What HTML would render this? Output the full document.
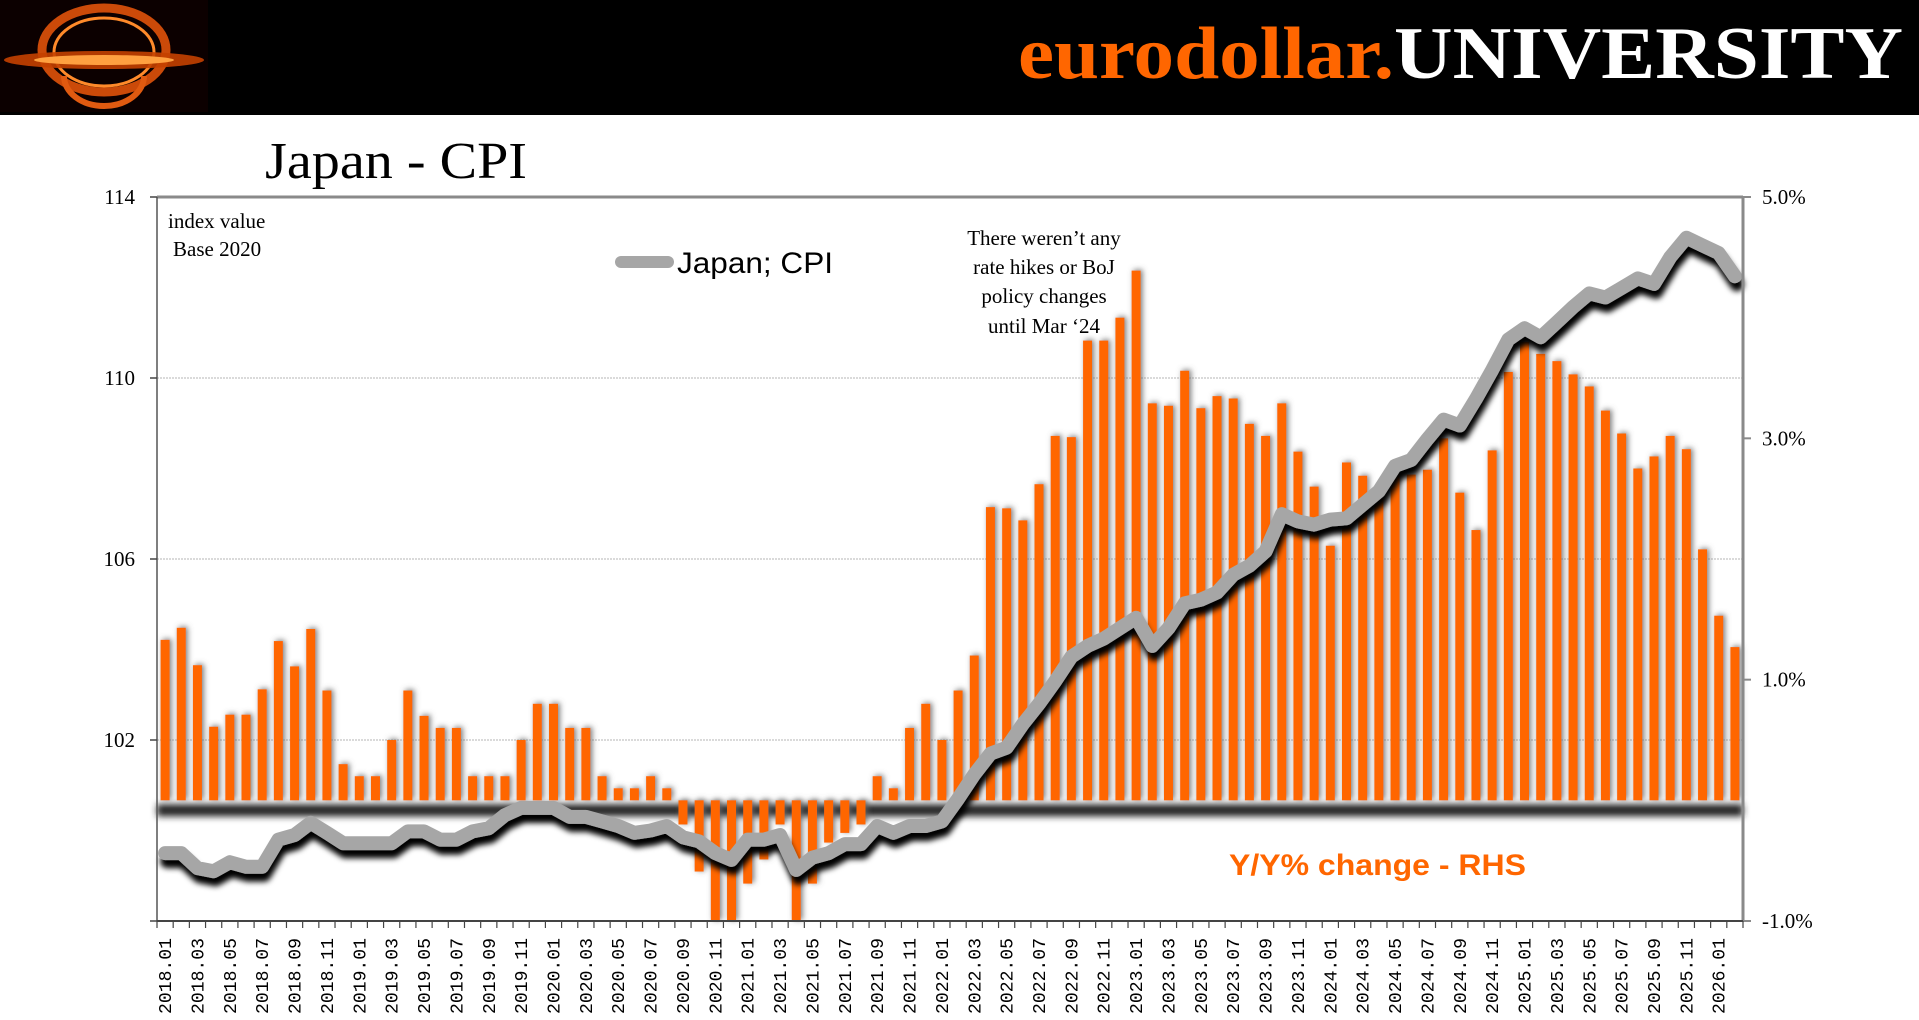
<!DOCTYPE html>
<html><head><meta charset="utf-8">
<style>
html,body{margin:0;padding:0;background:#fff;}
svg{display:block;}
</style></head>
<body>
<svg id="chart" width="1919" height="1020" viewBox="0 0 1919 1020" xmlns="http://www.w3.org/2000/svg">
<defs>
  <filter id="barShadow" x="-100%" y="-10%" width="300%" height="120%">
    <feDropShadow dx="2" dy="-1" stdDeviation="2.8" flood-color="#666" flood-opacity="0.85"/>
  </filter>
  <filter id="lineShadow" x="-5%" y="-20%" width="110%" height="140%">
    <feDropShadow dx="2" dy="8" stdDeviation="3" flood-color="#000" flood-opacity="1"/>
  </filter>
  <filter id="bandBlur" x="-5%" y="-100%" width="110%" height="300%">
    <feGaussianBlur stdDeviation="3.5"/>
  </filter>
</defs>

<!-- header -->
<rect x="0" y="0" width="1919" height="115" fill="#000"/>
<g>
  <rect x="0" y="0" width="208" height="112" fill="#0c0000"/>
  <ellipse cx="104" cy="50" rx="62" ry="42" fill="none" stroke="#e0520a" stroke-width="9" opacity="0.9"/>
  <ellipse cx="104" cy="52" rx="50" ry="34" fill="none" stroke="#ff8a2a" stroke-width="3"/>
  <ellipse cx="104" cy="60" rx="100" ry="9" fill="#c44000" opacity="0.9"/>
  <ellipse cx="104" cy="60" rx="70" ry="5" fill="#ffa040"/>
  <path d="M64,76 A40,30 0 0 0 144,76" fill="none" stroke="#e05a10" stroke-width="6"/>
</g>
<text x="1018" y="78" textLength="885" lengthAdjust="spacingAndGlyphs" font-family="'Liberation Serif',serif" font-weight="bold" font-size="74"><tspan fill="#ff6600">eurodollar.</tspan><tspan fill="#ffffff">UNIVERSITY</tspan></text>

<!-- title -->
<text x="265" y="178" textLength="262" lengthAdjust="spacingAndGlyphs" font-family="'Liberation Serif',serif" font-size="52" fill="#000">Japan - CPI</text>

<g id="plot"></g>

<!-- annotations -->
<text x="168" y="228" font-family="'Liberation Serif',serif" font-size="21" fill="#000">index value</text>
<text x="173" y="256" font-family="'Liberation Serif',serif" font-size="21" fill="#000">Base 2020</text>
<g font-family="'Liberation Serif',serif" font-size="21" fill="#000" text-anchor="middle">
  <text x="1044" y="245">There weren’t any</text>
  <text x="1044" y="274">rate hikes or BoJ</text>
  <text x="1044" y="303">policy changes</text>
  <text x="1044" y="333">until Mar ‘24</text>
</g>
<g>
  <line x1="621" y1="262" x2="668" y2="262" stroke="#a6a6a6" stroke-width="12" stroke-linecap="round"/>
  <text x="677" y="273" textLength="156" lengthAdjust="spacingAndGlyphs" font-family="'Liberation Sans',sans-serif" font-size="30" fill="#000">Japan; CPI</text>
</g>
<text x="1229" y="875" textLength="297" lengthAdjust="spacingAndGlyphs" font-family="'Liberation Sans',sans-serif" font-weight="bold" font-size="30" fill="#ff6600">Y/Y% change - RHS</text>
</svg>

<script>
const startYear = 2018;
const monthCount = 98;
const yoyValues = [1.33,1.43,1.12,0.61,0.71,0.71,0.92,1.32,1.11,1.42,0.91,0.30,0.2,0.2,0.5,0.91,0.7,0.6,0.6,0.2,0.2,0.2,0.5,0.8,0.8,0.6,0.6,0.2,0.1,0.1,0.2,0.1,
-0.2,-0.59,-1.0,-1.2,-0.69,-0.49,-0.2,-1.1,-0.69,-0.35,-0.27,-0.2,
0.2,0.1,0.6,0.8,0.5,
0.91,1.2,2.43,2.42,2.32,2.62,3.02,3.01,3.81,3.81,4.0,4.39,3.29,3.27,3.56,3.25,3.35,3.33,3.12,3.02,3.29,2.89,2.6,2.11,2.8,2.69,
2.5,2.75,2.7,2.74,3.0,2.55,2.24,2.9,3.55,3.8,3.7,3.64,3.53,3.43,3.23,3.04,2.75,2.85,3.02,2.91,2.08,1.53,1.27];
const cpiValues = [99.5,99.5,99.17,99.1,99.3,99.2,99.2,99.8,99.9,100.17,99.95,99.72,99.72,99.72,99.72,99.98,99.98,99.8,99.8,99.98,100.05,100.34,100.5,100.5,100.5,100.3,100.3,100.2,100.1,99.95,100.0,100.1,99.85,99.76,99.5,99.35,99.8,99.8,99.9,99.13,99.4,99.5,99.7,99.7,100.1,99.95,100.1,100.1,100.2,100.7,
101.24,101.7,101.83,102.35,102.8,103.3,103.84,104.08,104.24,104.47,104.7,104.08,104.47,105.02,105.1,105.26,105.65,105.85,106.17,106.99,106.83,106.76,106.87,106.9,
107.2,107.5,108.06,108.19,108.65,109.08,108.95,109.54,110.18,110.85,111.1,110.9,111.23,111.57,111.87,111.78,111.99,112.2,112.08,112.67,113.1,112.93,112.76,112.25];
const leftTicks = [98,102,106,110,114];
const leftTickLabels = ["","102","106","110","114"];
const rightTicks = [-1,1,3,5];
const rightTickLabels = ["-1.0%","1.0%","3.0%","5.0%"];

const categories = [];
for (let i = 0; i < monthCount; i++) {
  const yr = startYear + Math.floor(i / 12), m = (i % 12) + 1;
  categories.push(yr + "." + (m < 10 ? "0" + m : m));
}

const NS = "http://www.w3.org/2000/svg";
const PL = 157, PR = 1743, PT = 197, PB = 921;
const step = (PR - PL) / categories.length;
const xC = i => PL + step * (i + 0.5);
const yL = v => PB - (v - 98) / (114 - 98) * (PB - PT);
const yR = v => PB - (v + 1) / 6 * (PB - PT);
const plot = document.getElementById('plot');
function mk(tag, attrs, parent) {
  const e = document.createElementNS(NS, tag);
  for (const k in attrs) e.setAttribute(k, attrs[k]);
  (parent || plot).appendChild(e);
  return e;
}

leftTicks.forEach(v => {
  if (v === 98 || v === 114) return;
  const g = mk('line', {x1: PL, x2: PR, y1: yL(v), y2: yL(v), stroke: '#b5b5b5', 'stroke-width': 1, 'stroke-dasharray': '2,1'});
  
  
});

const band = mk('rect', {x: PL, y: yR(0) + 4, width: PR - PL, height: 12, fill: '#222', filter: 'url(#bandBlur)'});



const barG = mk('g', {filter: 'url(#barShadow)'});


yoyValues.forEach((v, i) => {
  const vv = Math.max(v, -1);
  const y0 = yR(0), y1 = yR(vv);
  const b = mk('rect', {x: xC(i) - 4.5, y: Math.min(y0, y1), width: 9, height: Math.abs(y1 - y0), fill: '#ff6600'}, barG);
  
  
});

const pts = cpiValues.map((v, i) => xC(i).toFixed(1) + ',' + yL(v).toFixed(1)).join(' ');
const ln = mk('polyline', {points: pts, fill: 'none', stroke: '#a6a6a6', 'stroke-width': 14, 'stroke-linejoin': 'round', 'stroke-linecap': 'round', filter: 'url(#lineShadow)'});



const topBorder = mk('line', {x1: PL, x2: PR, y1: PT, y2: PT, stroke: '#8a8a8a', 'stroke-width': 3});


const leftAxis = mk('line', {x1: PL, x2: PL, y1: PT, y2: PB, stroke: '#555', 'stroke-width': 1.5});


const rightAxis = mk('line', {x1: PR, x2: PR, y1: PT, y2: PB, stroke: '#8a8a8a', 'stroke-width': 3});


const bottomAxis = mk('line', {x1: PL, x2: PR, y1: PB, y2: PB, stroke: '#444', 'stroke-width': 2});



leftTicks.forEach((v, k) => {
  mk('line', {x1: PL - 7, x2: PL, y1: yL(v), y2: yL(v), stroke: '#444', 'stroke-width': 1.5});
  if (leftTickLabels[k]) {
    const t = mk('text', {x: 135, y: yL(v) + 7, 'text-anchor': 'end', 'font-family': "'Liberation Serif',serif", 'font-size': 21, fill: '#000'});
    t.textContent = leftTickLabels[k];
    
    
  }
});
rightTicks.forEach((v, k) => {
  mk('line', {x1: PR, x2: PR + 8, y1: yR(v), y2: yR(v), stroke: '#8a8a8a', 'stroke-width': 2});
  const t = mk('text', {x: 1762, y: yR(v) + 7, 'font-family': "'Liberation Serif',serif", 'font-size': 21, fill: '#000'});
  t.textContent = rightTickLabels[k];
  
  
});
for (let i = 0; i <= categories.length; i++) {
  const x = PL + step * i;
  mk('line', {x1: x, x2: x, y1: PB, y2: PB + 7, stroke: '#444', 'stroke-width': 1.2});
}
categories.forEach((c, i) => {
  if (i % 2) return;
  const x = xC(i) + 6;
  const t = mk('text', {x: 0, y: 0, transform: 'translate(' + x.toFixed(1) + ',1014) rotate(-90)', 'font-family': "'Liberation Mono',monospace", 'font-size': 18, fill: '#000', textLength: 76, lengthAdjust: 'spacingAndGlyphs'});
  t.textContent = c;
  
  
});
</script>
</body></html>
